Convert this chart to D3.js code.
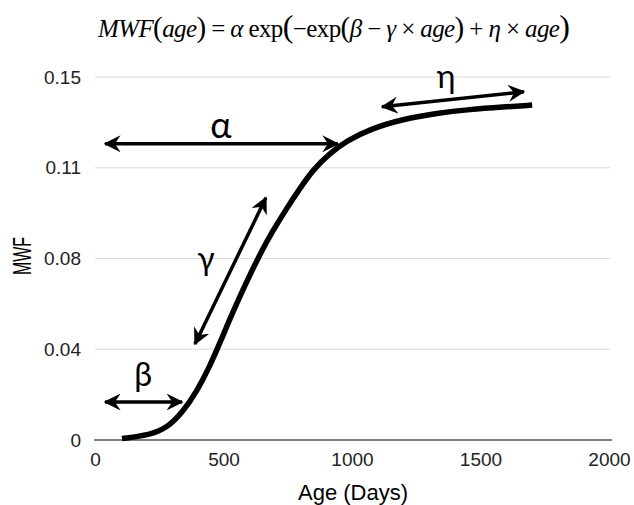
<!DOCTYPE html>
<html lang="en">
<head>
    <meta charset="UTF-8">
    <title>MWF Gompertz curve</title>
    <script src="https://d3js.org/d3.v7.min.js"></script>
    <style>
        body { margin: 0; background: #fff; }
        .greek { font-family: Lato, "DejaVu Sans", sans-serif; fill: #000; }
    </style>
</head>
<body>
    <div id="chart"></div>

    <script>
        // curve
        const ageDays = [105, 214, 280, 339, 397, 447, 486, 533, 584, 634, 689, 747, 798, 848, 914, 980, 1070, 1198, 1331, 1459, 1588, 1701];
        const mwfValues = [0.0006, 0.0021, 0.0050, 0.0112, 0.0202, 0.0306, 0.0401, 0.0521, 0.0640, 0.0752, 0.0860, 0.0959, 0.1041, 0.1116, 0.1186, 0.1236, 0.1285, 0.1326, 0.1351, 0.1366, 0.1376, 0.1384];

        const xTicks = [0, 500, 1000, 1500, 2000];
        const yTicks = [0, 0.0375, 0.075, 0.1125, 0.15];
        const yTickLabels = ["0", "0.04", "0.08", "0.11", "0.15"];

        // parameter arrows (data units)
        const arrows = [
            { name: "α", x1: 39, y1: 0.1224, x2: 945, y2: 0.1224 },
            { name: "β", x1: 39, y1: 0.0157, x2: 339, y2: 0.0157 },
            { name: "γ", x1: 389, y1: 0.0397, x2: 665, y2: 0.1001 },
            { name: "η", x1: 1117, y1: 0.1377, x2: 1669, y2: 0.1439 }
        ];
        const arrowLabels = [
            { text: "α", x: 490, y: 0.1307, size: 36 },
            { text: "β", x: 187, y: 0.0273, size: 32 },
            { text: "γ", x: 432, y: 0.0753, size: 32 },
            { text: "η", x: 1366, y: 0.1505, size: 32 }
        ];

        const W = 634, H = 505;
        const svg = d3.select("#chart").append("svg")
            .attr("width", W)
            .attr("height", H);

        const x = d3.scaleLinear().domain([0, 2000]).range([95, 609]);
        const y = d3.scaleLinear().domain([0, 0.15]).range([440, 77]);

        // arrow head
        svg.append("defs").append("marker")
            .attr("id", "head")
            .attr("viewBox", "0 0 12 12")
            .attr("refX", 11)
            .attr("refY", 6)
            .attr("markerWidth", 17)
            .attr("markerHeight", 17)
            .attr("markerUnits", "userSpaceOnUse")
            .attr("orient", "auto-start-reverse")
            .append("path")
            .attr("d", "M0,0 L12,6 L0,12 L4,6 Z")
            .attr("fill", "#000");

        // gridlines
        svg.append("g")
            .selectAll("line")
            .data(yTicks.slice(1))
            .enter()
            .append("line")
            .attr("x1", 95).attr("x2", 610)
            .attr("y1", d => y(d)).attr("y2", d => y(d))
            .attr("stroke", "#dadada")
            .attr("stroke-width", 1);

        // y axis (labels only)
        const yAxis = svg.append("g")
            .attr("transform", "translate(95,0)")
            .call(d3.axisLeft(y).tickValues(yTicks).tickFormat((d, i) => yTickLabels[i]).tickSize(0).tickPadding(14));
        yAxis.select(".domain").remove();

        // x axis
        const xAxis = svg.append("g")
            .attr("transform", "translate(0,440)")
            .call(d3.axisBottom(x).tickValues(xTicks).tickFormat(d3.format("d")).tickSize(0).tickPadding(13));
        xAxis.select(".domain").remove();

        yAxis.attr("font-size", 19).attr("font-family", "'Liberation Sans', Arial, sans-serif");
        xAxis.attr("font-size", 19).attr("font-family", "'Liberation Sans', Arial, sans-serif");
        svg.selectAll(".tick text").attr("fill", "#222");

        svg.append("line")
            .attr("x1", 94).attr("x2", 612)
            .attr("y1", y(0)).attr("y2", y(0))
            .attr("stroke", "#555")
            .attr("stroke-width", 1.5);

        // axis titles
        svg.append("text")
            .attr("x", 353).attr("y", 500)
            .attr("text-anchor", "middle")
            .attr("textLength", 110)
            .attr("lengthAdjust", "spacingAndGlyphs")
            .style("font-family", "'Liberation Sans', Arial, sans-serif")
            .style("font-size", "22px")
            .text("Age (Days)");

        svg.append("text")
            .attr("transform", "translate(31,256) rotate(-90)")
            .attr("text-anchor", "middle")
            .attr("textLength", 38)
            .attr("lengthAdjust", "spacingAndGlyphs")
            .style("font-family", "'Liberation Sans', Arial, sans-serif")
            .style("font-size", "25px")
            .text("MWF");

        // curve
        const curvePts = ageDays.map((d, i) => [d, mwfValues[i]]);
        svg.append("path")
            .datum(curvePts)
            .attr("fill", "none")
            .attr("stroke", "#000")
            .attr("stroke-width", 5.5)
            .attr("d", d3.line().x(d => x(d[0])).y(d => y(d[1])).curve(d3.curveBasis));

        // arrows
        svg.append("g")
            .selectAll("line")
            .data(arrows)
            .enter()
            .append("line")
            .attr("x1", d => x(d.x1)).attr("y1", d => y(d.y1))
            .attr("x2", d => x(d.x2)).attr("y2", d => y(d.y2))
            .attr("stroke", "#000")
            .attr("stroke-width", 3.5)
            .attr("marker-start", "url(#head)")
            .attr("marker-end", "url(#head)");

        svg.append("g")
            .selectAll("text")
            .data(arrowLabels)
            .enter()
            .append("text")
            .attr("class", "greek")
            .attr("x", d => x(d.x))
            .attr("y", d => y(d.y))
            .attr("text-anchor", "middle")
            .attr("dominant-baseline", "central")
            .style("font-size", d => d.size + "px")
            .text(d => d.text);

        // formula
        const f = svg.append("text")
            .attr("x", 334).attr("y", 37)
            .attr("text-anchor", "middle")
            .style("font-family", "'Liberation Serif', 'Times New Roman', serif")
            .style("font-size", "25px");
        const parts = [
            ["MWF", true], ["(", false, 29], ["age", true], [")", false, 29], [" = ", false],
            ["α", true], [" exp", false], ["(", false, 32], ["−exp", false], ["(", false, 29],
            ["β", true], [" − ", false], ["γ", true], [" × ", false], ["age", true], [")", false, 29],
            [" + ", false], ["η", true], [" × ", false], ["age", true], [")", false, 32]
        ];
        parts.forEach(p => {
            f.append("tspan")
                .style("font-style", p[1] ? "italic" : "normal")
                .style("font-size", p[2] ? p[2] + "px" : null)
                .text(p[0]);
        });
        f.attr("textLength", 472).attr("lengthAdjust", "spacing");
    </script>
</body>
</html>
